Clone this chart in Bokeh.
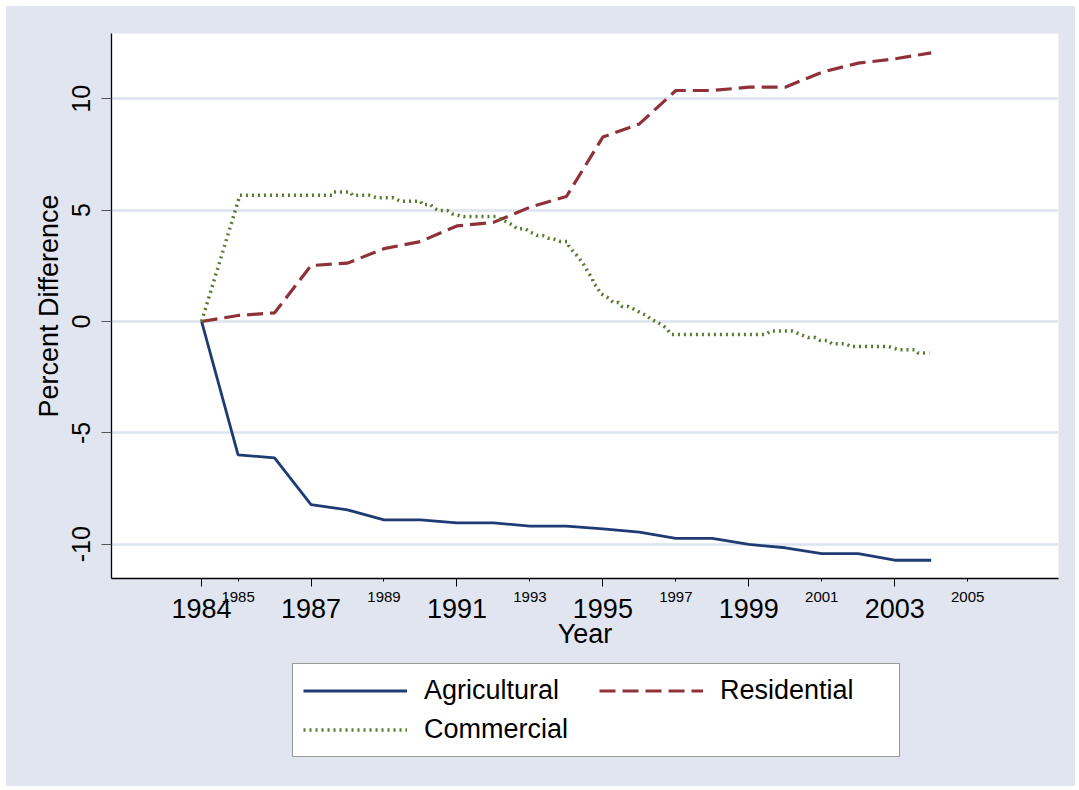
from bokeh.plotting import figure
from bokeh.models import Range1d, FixedTicker, Legend, LegendItem, LinearAxis
from bokeh.layouts import column
from bokeh.embed import file_html
from bokeh.resources import INLINE

# ---- data ----
years = list(range(1984, 2005))
agricultural = [0, -5.99, -6.12, -8.22, -8.46, -8.91, -8.91, -9.04, -9.04, -9.19, -9.19,
                -9.31, -9.46, -9.74, -9.74, -10.01, -10.16, -10.42, -10.42, -10.72, -10.72]
residential = [0, 0.27, 0.39, 2.51, 2.62, 3.27, 3.59, 4.29, 4.45, 5.13, 5.61,
               8.28, 8.87, 10.37, 10.37, 10.52, 10.52, 11.19, 11.60, 11.79, 12.06]
commercial_x = [1984.0, 1985.05, 1987.58, 1987.62, 1988.08, 1988.13, 1988.58, 1988.81, 1989.26,
                1989.45, 1990.0, 1990.05, 1990.28, 1990.36, 1990.5, 1990.74, 1990.87, 1991.18,
                1992.06, 1992.24, 1992.55, 1992.65, 1992.88, 1993.02, 1993.2, 1993.35, 1993.5,
                1993.6, 1993.84, 1994.03, 1994.06, 1994.16, 1994.33, 1994.48, 1994.6, 1994.71,
                1994.74, 1994.85, 1994.93, 1995.12, 1995.29, 1995.43, 1995.53, 1995.7, 1995.89,
                1996.03, 1996.21, 1996.3, 1996.46, 1996.63, 1996.74, 1996.87, 1999.46, 1999.6,
                2000.19, 2000.42, 2000.63, 2000.83, 2000.96, 2001.16, 2001.28, 2001.65, 2001.79,
                2002.83, 2003.1, 2003.57, 2003.65, 2003.95]
commercial_y = [0, 5.67, 5.67, 5.81, 5.81, 5.67, 5.67, 5.55, 5.55,
                5.40, 5.40, 5.25, 5.25, 5.10, 4.98, 4.98, 4.83, 4.71,
                4.71, 4.57, 4.31, 4.16, 4.16, 4.01, 3.86, 3.86, 3.74,
                3.74, 3.59, 3.59, 3.41, 3.19, 2.89, 2.54, 2.20, 1.93,
                1.72, 1.53, 1.26, 1.09, 0.85, 0.85, 0.67, 0.67, 0.52,
                0.39, 0.26, 0.12, -0.01, -0.17, -0.30, -0.58, -0.58, -0.43,
                -0.43, -0.58, -0.72, -0.72, -0.85, -0.85, -1.00, -1.00, -1.12,
                -1.12, -1.27, -1.27, -1.42, -1.42]
major_years = [1984, 1987, 1991, 1995, 1999, 2003]
minor_years = [1985, 1989, 1993, 1997, 2001, 2005]
y_ticks = [-10, -5, 0, 5, 10]
series_names = ["Agricultural", "Residential", "Commercial"]

FONT = "Liberation Sans"
BG = "#E1E5F0"
GRID = "#DDE3EE"
STYLES = [dict(line_color="#1F3B73", line_width=2.8),
          dict(line_color="#8E3139", line_width=3.2, line_dash="16 7"),
          dict(line_color="#567A2E", line_width=3.5, line_dash="2 4")]

p = figure(width=1069, height=656, output_backend="svg", toolbar_location=None,
           x_range=Range1d(1981.53, 2007.49), y_range=Range1d(-11.54, 12.93),
           min_border_left=105, min_border_right=17, min_border_top=27, min_border_bottom=84)
p.margin = (6, 0, 0, 6)
p.styles = {"background-color": BG}
p.background_fill_color = "white"
p.border_fill_color = BG
p.outline_line_color = None

p.line(years, agricultural, **STYLES[0])
p.line(years, residential, **STYLES[1])
p.line(commercial_x, commercial_y, **STYLES[2])

# x axis A: axis line, all ticks, small labels on the odd years
xa = p.xaxis[0]
xa.ticker = FixedTicker(ticks=minor_years, minor_ticks=major_years)
xa.major_tick_out = 3
xa.major_tick_in = 0
xa.minor_tick_out = 8
xa.minor_tick_in = 0
xa.axis_line_color = "black"
xa.axis_line_width = 1.3
xa.major_tick_line_color = "black"
xa.minor_tick_line_color = "black"
xa.major_label_text_font = FONT
xa.major_label_text_font_size = "15px"
xa.major_label_text_color = "black"
xa.major_label_standoff = 5

# x axis B: big labels and the title
xb = LinearAxis(ticker=FixedTicker(ticks=major_years, minor_ticks=[]))
xb.axis_line_color = None
xb.major_tick_line_color = None
xb.minor_tick_line_color = None
xb.major_tick_out = 0
xb.major_tick_in = 0
xb.minor_tick_out = 0
xb.minor_tick_in = 0
xb.major_label_text_font = FONT
xb.major_label_text_font_size = "27px"
xb.major_label_text_color = "black"
xb.major_label_standoff = -6
xb.axis_label = "Year"
xb.axis_label_text_font = FONT
xb.axis_label_text_font_size = "27px"
xb.axis_label_text_font_style = "normal"
xb.axis_label_text_color = "black"
xb.axis_label_standoff = -2
p.add_layout(xb, "below")

# y axis
ya = p.yaxis[0]
ya.ticker = FixedTicker(ticks=y_ticks, minor_ticks=[])
ya.major_label_overrides = {t: str(t) for t in y_ticks}
ya.major_label_orientation = "vertical"
ya.major_tick_out = 10
ya.major_tick_in = 0
ya.minor_tick_out = 0
ya.minor_tick_in = 0
ya.axis_line_color = "black"
ya.axis_line_width = 1.3
ya.major_tick_line_color = "#555555"
ya.major_label_text_font = FONT
ya.major_label_text_font_size = "25px"
ya.major_label_text_color = "black"
ya.major_label_standoff = 11
ya.axis_label = "Percent Difference"
ya.axis_label_text_font = FONT
ya.axis_label_text_font_size = "27px"
ya.axis_label_text_font_style = "normal"
ya.axis_label_text_color = "black"
ya.axis_label_standoff = 6

p.xgrid.visible = False
p.ygrid.ticker = FixedTicker(ticks=y_ticks)
p.ygrid.grid_line_color = GRID
p.ygrid.grid_line_width = 2.5

# legend strip (same lavender background, lines out of its view)
p2 = figure(width=1069, height=124, output_backend="svg", toolbar_location=None,
            x_range=Range1d(0, 1), y_range=Range1d(0, 1),
            x_axis_location=None, y_axis_location=None,
            min_border_left=105, min_border_right=17, min_border_top=0, min_border_bottom=0)
p2.margin = (0, 0, 0, 6)
p2.styles = {"background-color": BG}
p2.background_fill_color = BG
p2.background_fill_alpha = 0.0
p2.border_fill_color = BG
p2.outline_line_color = None
p2.grid.visible = False
q1 = p2.line(years, agricultural, **STYLES[0])
q2 = p2.line(years, residential, **STYLES[1])
q3 = p2.line(commercial_x, commercial_y, **STYLES[2])

legend = Legend(items=[LegendItem(label=series_names[0], renderers=[q1]),
                       LegendItem(label=series_names[1], renderers=[q2]),
                       LegendItem(label=series_names[2], renderers=[q3])],
                orientation="horizontal", ncols=2, location=(181, 29),
                padding=10, spacing=6, label_height=33, glyph_height=33, glyph_width=104,
                label_standoff=17, label_width=169,
                label_text_font=FONT, label_text_font_size="27px", label_text_color="black",
                border_line_color="#333333", border_line_width=1,
                background_fill_color="white", background_fill_alpha=1.0)
p2.add_layout(legend, "center")

layout = column(p, p2, spacing=0)
open("out.html", "w").write(file_html(layout, INLINE))
